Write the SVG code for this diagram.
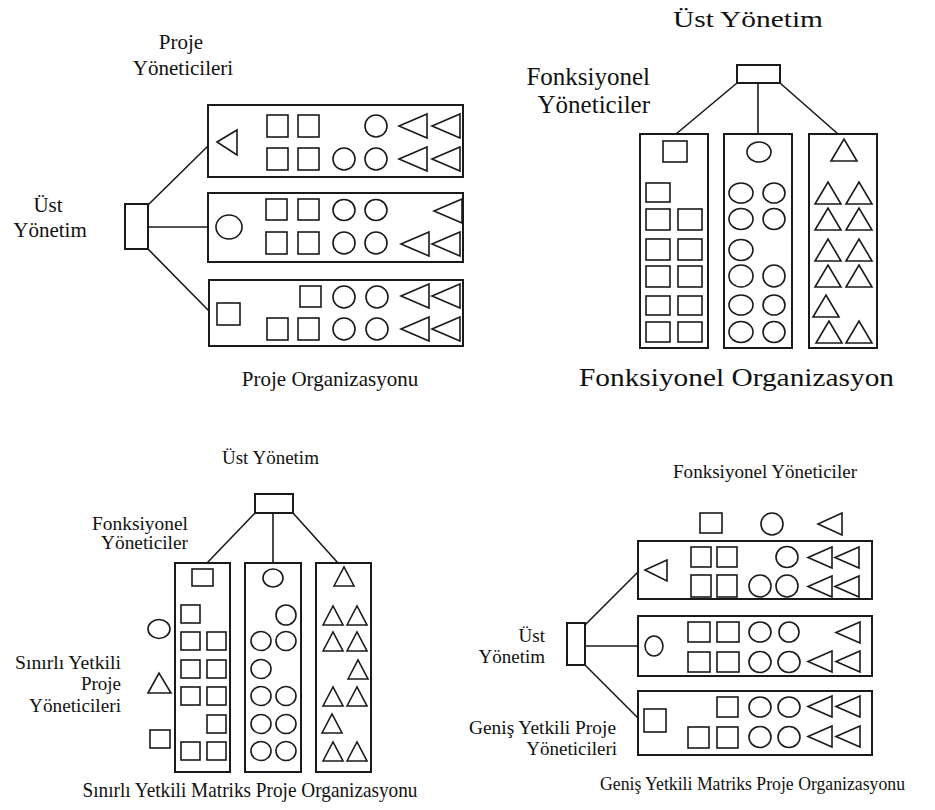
<svg xmlns="http://www.w3.org/2000/svg" width="935" height="810" viewBox="0 0 935 810">
  <style>
    .bg { fill: #ffffff; }
    .box { fill: none; stroke: #1a1a1a; stroke-width: 2; }
    .sh { fill: none; stroke: #1a1a1a; stroke-width: 1.6; }
    .ln { fill: none; stroke: #1a1a1a; stroke-width: 1.6; }
    text { font-family: 'Liberation Serif', 'Times New Roman', 'DejaVu Serif', serif; fill: #111; font-weight: normal; }
    .s21 { font-size: 21px; }
    .s19 { font-size: 19px; }
    .s18 { font-size: 18px; }
    .mid { text-anchor: middle; }
    .end { text-anchor: end; }
  </style>
  <defs>
    <!-- left-pointing and upward triangles, one size per chart -->
    <polygon id="triA" class="sh" points="0,12 28,0 28,24"/>
    <polygon id="triB" class="sh" points="0,22 13,0 26,22"/>
    <polygon id="triC" class="sh" points="0,19 10,0 20,19"/>
    <polygon id="triD" class="sh" points="0,10.5 24,0 24,21"/>
  </defs>
  <rect class="bg" x="0" y="0" width="935" height="810"/>

  <!-- ===== Proje Organizasyonu ===== -->
  <g id="proje-org">
    <g id="po-connectors">
      <line class="ln" x1="148" y1="205" x2="208" y2="146"/>
      <line class="ln" x1="148" y1="227" x2="208" y2="227"/>
      <line class="ln" x1="148" y1="249" x2="209" y2="311"/>
    </g>
    <g id="po-top">
      <rect class="box" x="125" y="204" width="23" height="45"/>
    </g>
    <g id="po-team1">
      <rect class="box" x="208" y="105" width="255" height="72"/>
      <polygon class="sh" points="217,142 237,130 237,155"/>
      <rect class="sh" x="267" y="115" width="21" height="22"/>
      <rect class="sh" x="298" y="115" width="21" height="22"/>
      <ellipse class="sh" cx="376" cy="126" rx="11" ry="11"/>
      <use href="#triA" x="399" y="114"/>
      <use href="#triA" x="432" y="114"/>
      <rect class="sh" x="267" y="148" width="21" height="22"/>
      <rect class="sh" x="298" y="148" width="21" height="22"/>
      <ellipse class="sh" cx="344" cy="159" rx="11" ry="11"/>
      <ellipse class="sh" cx="376" cy="159" rx="11" ry="11"/>
      <use href="#triA" x="399" y="147"/>
      <use href="#triA" x="432" y="147"/>
    </g>
    <g id="po-team2">
      <rect class="box" x="208" y="193" width="255" height="69"/>
      <ellipse class="sh" cx="229" cy="227" rx="13" ry="12"/>
      <rect class="sh" x="266" y="199" width="21" height="21"/>
      <rect class="sh" x="298" y="199" width="21" height="21"/>
      <ellipse class="sh" cx="344" cy="210" rx="11" ry="10.5"/>
      <ellipse class="sh" cx="376" cy="210" rx="11" ry="10.5"/>
      <use href="#triA" x="434" y="199"/>
      <rect class="sh" x="266" y="232" width="21" height="22"/>
      <rect class="sh" x="298" y="232" width="21" height="22"/>
      <ellipse class="sh" cx="344" cy="243" rx="11" ry="11"/>
      <ellipse class="sh" cx="376" cy="243" rx="11" ry="11"/>
      <use href="#triA" x="401" y="232"/>
      <use href="#triA" x="432" y="232"/>
    </g>
    <g id="po-team3">
      <rect class="box" x="209" y="280" width="254" height="66"/>
      <rect class="sh" x="217" y="303" width="23" height="22"/>
      <rect class="sh" x="300" y="286" width="21" height="21"/>
      <ellipse class="sh" cx="344" cy="297" rx="11" ry="11"/>
      <ellipse class="sh" cx="377" cy="297" rx="11" ry="11"/>
      <use href="#triA" x="401" y="284"/>
      <use href="#triA" x="432" y="284"/>
      <rect class="sh" x="267" y="318" width="21" height="22"/>
      <rect class="sh" x="298" y="318" width="21" height="22"/>
      <ellipse class="sh" cx="344" cy="329" rx="11" ry="11"/>
      <ellipse class="sh" cx="377" cy="329" rx="11" ry="11"/>
      <use href="#triA" x="401" y="317"/>
      <use href="#triA" x="432" y="317"/>
    </g>
    <g id="po-labels">
      <text class="s21 mid" x="181" y="49">Proje</text>
      <text class="s21 mid" x="183" y="75">Yöneticileri</text>
      <text class="s21 mid" x="48" y="212">Üst</text>
      <text class="s21 mid" x="50" y="237">Yönetim</text>
      <text class="s21 mid" x="330" y="386">Proje Organizasyonu</text>
    </g>
  </g>

  <!-- ===== Fonksiyonel Organizasyon ===== -->
  <g id="fonk-org">
    <g id="fo-connectors">
      <line class="ln" x1="737" y1="83" x2="676" y2="134"/>
      <line class="ln" x1="758" y1="83" x2="758" y2="134"/>
      <line class="ln" x1="780" y1="83" x2="838" y2="134"/>
    </g>
    <g id="fo-top">
      <rect class="box" x="737" y="65" width="43" height="18"/>
    </g>
    <g id="fo-col-square">
      <rect class="box" x="640" y="134" width="68" height="214"/>
      <rect class="sh" x="663" y="141" width="24" height="21"/>
      <rect class="sh" x="646" y="183" width="24" height="19"/>
      <rect class="sh" x="646" y="209" width="24" height="21"/>
      <rect class="sh" x="678" y="209" width="24" height="21"/>
      <rect class="sh" x="646" y="239" width="24" height="21"/>
      <rect class="sh" x="678" y="239" width="24" height="21"/>
      <rect class="sh" x="646" y="266" width="24" height="21"/>
      <rect class="sh" x="678" y="266" width="24" height="21"/>
      <rect class="sh" x="646" y="296" width="24" height="19"/>
      <rect class="sh" x="678" y="296" width="24" height="19"/>
      <rect class="sh" x="646" y="322" width="24" height="20"/>
      <rect class="sh" x="678" y="322" width="24" height="20"/>
    </g>
    <g id="fo-col-circle">
      <rect class="box" x="724" y="134" width="68" height="214"/>
      <ellipse class="sh" cx="759" cy="152" rx="12" ry="10"/>
      <ellipse class="sh" cx="741" cy="193" rx="12" ry="10"/>
      <ellipse class="sh" cx="774" cy="193" rx="11" ry="10"/>
      <ellipse class="sh" cx="741" cy="219" rx="12" ry="10.5"/>
      <ellipse class="sh" cx="774" cy="219" rx="11" ry="10.5"/>
      <ellipse class="sh" cx="741" cy="250" rx="12" ry="10.5"/>
      <ellipse class="sh" cx="741" cy="276" rx="12" ry="11"/>
      <ellipse class="sh" cx="774" cy="276" rx="11" ry="11"/>
      <ellipse class="sh" cx="741" cy="305" rx="12" ry="10"/>
      <ellipse class="sh" cx="774" cy="305" rx="11" ry="10"/>
      <ellipse class="sh" cx="741" cy="332" rx="12" ry="10.5"/>
      <ellipse class="sh" cx="774" cy="332" rx="11" ry="10.5"/>
    </g>
    <g id="fo-col-triangle">
      <rect class="box" x="809" y="134" width="68" height="214"/>
      <use href="#triB" x="831" y="139"/>
      <use href="#triB" x="815" y="182"/>
      <use href="#triB" x="846" y="182"/>
      <use href="#triB" x="815" y="208"/>
      <use href="#triB" x="846" y="208"/>
      <use href="#triB" x="815" y="239"/>
      <use href="#triB" x="846" y="239"/>
      <use href="#triB" x="815" y="265"/>
      <use href="#triB" x="846" y="265"/>
      <use href="#triB" x="813" y="295"/>
      <use href="#triB" x="816" y="321"/>
      <use href="#triB" x="846" y="321"/>
    </g>
    <g id="fo-labels">
      <text class="mid" x="748" y="27" font-size="23" textLength="150" lengthAdjust="spacingAndGlyphs">Üst Yönetim</text>
      <text class="end" x="650" y="85" font-size="25">Fonksiyonel</text>
      <text class="end" x="650" y="113" font-size="25">Yöneticiler</text>
      <text x="579" y="386" font-size="25" textLength="315" lengthAdjust="spacingAndGlyphs">Fonksiyonel Organizasyon</text>
    </g>
  </g>

  <!-- ===== Sınırlı Yetkili Matriks Proje Organizasyonu ===== -->
  <g id="sinirli-matriks">
    <g id="sm-connectors">
      <line class="ln" x1="255" y1="513" x2="207" y2="563"/>
      <line class="ln" x1="273" y1="513" x2="273" y2="563"/>
      <line class="ln" x1="293" y1="513" x2="338" y2="563"/>
    </g>
    <g id="sm-top">
      <rect class="box" x="255" y="494" width="38" height="19"/>
    </g>
    <g id="sm-col-square">
      <rect class="box" x="175" y="563" width="55" height="209"/>
      <rect class="sh" x="192" y="569" width="21" height="17"/>
      <rect class="sh" x="181" y="605" width="19" height="18"/>
      <rect class="sh" x="181" y="632" width="19" height="18"/>
      <rect class="sh" x="207" y="632" width="19" height="18"/>
      <rect class="sh" x="181" y="660" width="19" height="18"/>
      <rect class="sh" x="207" y="660" width="19" height="18"/>
      <rect class="sh" x="181" y="687" width="19" height="18"/>
      <rect class="sh" x="207" y="687" width="19" height="18"/>
      <rect class="sh" x="207" y="715" width="19" height="18"/>
      <rect class="sh" x="181" y="742" width="19" height="18"/>
      <rect class="sh" x="207" y="742" width="19" height="18"/>
    </g>
    <g id="sm-col-circle">
      <rect class="box" x="245" y="563" width="56" height="209"/>
      <ellipse class="sh" cx="273" cy="578" rx="10" ry="9"/>
      <ellipse class="sh" cx="286" cy="615" rx="10" ry="10"/>
      <ellipse class="sh" cx="261" cy="641" rx="10" ry="9.5"/>
      <ellipse class="sh" cx="286" cy="641" rx="10" ry="9.5"/>
      <ellipse class="sh" cx="261" cy="669" rx="10" ry="9.5"/>
      <ellipse class="sh" cx="261" cy="696" rx="10" ry="9.5"/>
      <ellipse class="sh" cx="286" cy="696" rx="10" ry="9.5"/>
      <ellipse class="sh" cx="261" cy="724" rx="10" ry="9.5"/>
      <ellipse class="sh" cx="286" cy="724" rx="10" ry="9.5"/>
      <ellipse class="sh" cx="261" cy="751" rx="10" ry="9.5"/>
      <ellipse class="sh" cx="286" cy="751" rx="10" ry="9.5"/>
    </g>
    <g id="sm-col-triangle">
      <rect class="box" x="316" y="563" width="55" height="209"/>
      <use href="#triC" x="334" y="567"/>
      <use href="#triC" x="323" y="606"/>
      <use href="#triC" x="347" y="606"/>
      <use href="#triC" x="323" y="632"/>
      <use href="#triC" x="347" y="632"/>
      <use href="#triC" x="348" y="660"/>
      <use href="#triC" x="323" y="687"/>
      <use href="#triC" x="347" y="687"/>
      <use href="#triC" x="322" y="714"/>
      <use href="#triC" x="323" y="742"/>
      <use href="#triC" x="347" y="742"/>
    </g>
    <g id="sm-project-managers">
      <ellipse class="sh" cx="159" cy="629" rx="11" ry="9.5"/>
      <polygon class="sh" points="148,693 159,673 171,693"/>
      <rect class="sh" x="150" y="730" width="20" height="18"/>
    </g>
    <g id="sm-labels">
      <text class="s19" x="222" y="464">Üst Yönetim</text>
      <text class="s19 end" x="188" y="530" textLength="96" lengthAdjust="spacingAndGlyphs">Fonksiyonel</text>
      <text class="s19 end" x="188" y="549" textLength="87" lengthAdjust="spacingAndGlyphs">Yöneticiler</text>
      <text class="s19 end" x="121" y="669" textLength="106" lengthAdjust="spacingAndGlyphs">Sınırlı Yetkili</text>
      <text class="s19 end" x="121" y="690">Proje</text>
      <text class="s19 end" x="121" y="712" textLength="92" lengthAdjust="spacingAndGlyphs">Yöneticileri</text>
      <text class="mid" x="250" y="797" font-size="21" textLength="335" lengthAdjust="spacingAndGlyphs">Sınırlı Yetkili Matriks Proje Organizasyonu</text>
    </g>
  </g>

  <!-- ===== Geniş Yetkili Matriks Proje Organizasyonu ===== -->
  <g id="genis-matriks">
    <g id="gm-connectors">
      <line class="ln" x1="585" y1="625" x2="638" y2="572"/>
      <line class="ln" x1="585" y1="646" x2="638" y2="646"/>
      <line class="ln" x1="585" y1="665" x2="638" y2="718"/>
    </g>
    <g id="gm-top">
      <rect class="box" x="567" y="623" width="18" height="42"/>
    </g>
    <g id="gm-functional-managers">
      <rect class="sh" x="700" y="513" width="22" height="20"/>
      <ellipse class="sh" cx="772" cy="524" rx="11" ry="11"/>
      <polygon class="sh" points="818,524 842,513 842,535"/>
    </g>
    <g id="gm-team1">
      <rect class="box" x="638" y="541" width="234" height="58"/>
      <polygon class="sh" points="645,570 667,560 667,581"/>
      <rect class="sh" x="691" y="547" width="20" height="20"/>
      <rect class="sh" x="717" y="547" width="20" height="20"/>
      <ellipse class="sh" cx="787" cy="557" rx="11" ry="10.5"/>
      <use href="#triD" x="808" y="547"/>
      <use href="#triD" x="835" y="547"/>
      <rect class="sh" x="691" y="575" width="20" height="22"/>
      <rect class="sh" x="717" y="575" width="20" height="22"/>
      <ellipse class="sh" cx="760" cy="586" rx="11" ry="11"/>
      <ellipse class="sh" cx="787" cy="586" rx="11" ry="11"/>
      <use href="#triD" x="808" y="576"/>
      <use href="#triD" x="835" y="576"/>
    </g>
    <g id="gm-team2">
      <rect class="box" x="638" y="616" width="234" height="60"/>
      <ellipse class="sh" cx="654" cy="646" rx="9" ry="10"/>
      <rect class="sh" x="688" y="622" width="22" height="20"/>
      <rect class="sh" x="717" y="622" width="22" height="20"/>
      <ellipse class="sh" cx="760" cy="632" rx="11" ry="10"/>
      <ellipse class="sh" cx="789" cy="632" rx="10" ry="10"/>
      <use href="#triD" x="836" y="622"/>
      <rect class="sh" x="688" y="652" width="22" height="20"/>
      <rect class="sh" x="717" y="652" width="22" height="20"/>
      <ellipse class="sh" cx="760" cy="662" rx="11" ry="10.5"/>
      <ellipse class="sh" cx="789" cy="662" rx="11" ry="10.5"/>
      <use href="#triD" x="808" y="651"/>
      <use href="#triD" x="836" y="651"/>
    </g>
    <g id="gm-team3">
      <rect class="box" x="638" y="691" width="234" height="64"/>
      <rect class="sh" x="644" y="709" width="22" height="23"/>
      <rect class="sh" x="717" y="697" width="21" height="20"/>
      <ellipse class="sh" cx="760" cy="707" rx="11" ry="10"/>
      <ellipse class="sh" cx="789" cy="707" rx="11" ry="10"/>
      <use href="#triD" x="808" y="696"/>
      <use href="#triD" x="836" y="696"/>
      <rect class="sh" x="688" y="727" width="21" height="21"/>
      <rect class="sh" x="717" y="727" width="21" height="21"/>
      <ellipse class="sh" cx="760" cy="737" rx="11" ry="10.5"/>
      <ellipse class="sh" cx="789" cy="737" rx="11" ry="10.5"/>
      <use href="#triD" x="808" y="726"/>
      <use href="#triD" x="836" y="726"/>
    </g>
    <g id="gm-labels">
      <text class="s18" x="673" y="478" textLength="184" lengthAdjust="spacingAndGlyphs">Fonksiyonel Yöneticiler</text>
      <text class="s19 end" x="545" y="642">Üst</text>
      <text class="s19 end" x="545" y="663">Yönetim</text>
      <text class="s19 end" x="616" y="734" textLength="147" lengthAdjust="spacingAndGlyphs">Geniş Yetkili Proje</text>
      <text class="s19 end" x="617" y="755">Yöneticileri</text>
      <text x="600" y="790" font-size="19" textLength="305" lengthAdjust="spacingAndGlyphs">Geniş Yetkili Matriks Proje Organizasyonu</text>
    </g>
  </g>
</svg>
